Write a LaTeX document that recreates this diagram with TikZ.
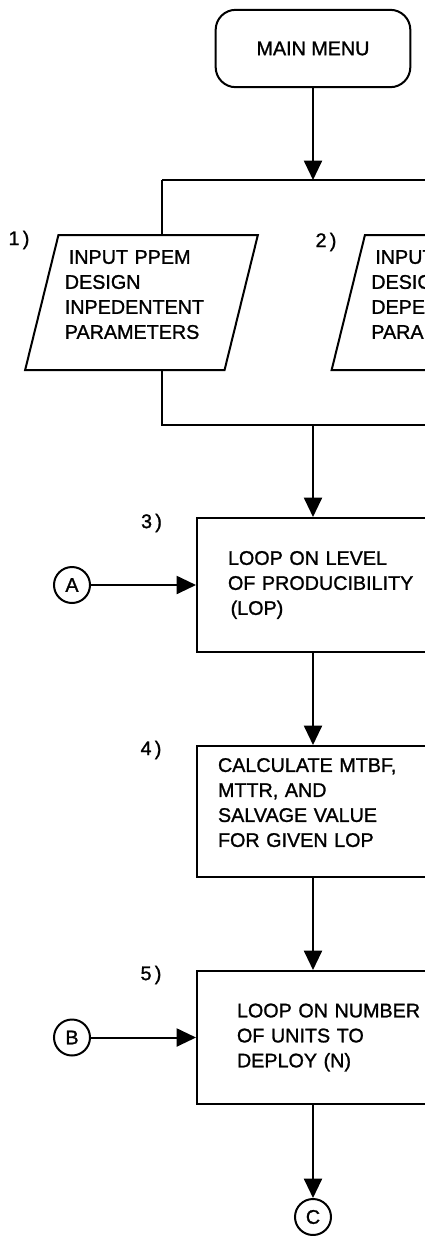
\documentclass[tikz,border=0pt]{standalone}
\usepackage{fontspec}
\setmainfont{Liberation Sans}[BoldFont=Liberation Sans,BoldFeatures={FakeBold=1.2}]
\usetikzlibrary{arrows.meta,shapes.geometric,calc}
\hyphenpenalty=10000
\exhyphenpenalty=10000

\begin{document}
\begin{tikzpicture}[x=0.75pt,y=-0.75pt,line width=1.5pt,
  >={Triangle[width=13.5pt,length=14.5pt]},
  every node/.style={font=\fontsize{14.8pt}{18.75pt}\selectfont\bfseries},
  menubox/.style={draw,rounded corners=15pt,minimum width=146pt,minimum height=58pt},
  procbox/.style={draw,rectangle,minimum width=174pt,align=left},
  inputbox/.style={draw,trapezium,trapezium left angle=74,trapezium right angle=106,
    trapezium stretches=true,minimum width=174.75pt,minimum height=101.25pt,
    text width=115pt,align=left},
  connector/.style={draw,circle,minimum size=27pt,inner sep=0pt},
  steplabel/.style={inner sep=0pt}]
\clip (0,0) rectangle (425,1236);
\node[menubox] (menu) at (313,48.5) {MAIN MENU};
\node[steplabel] (n1) at (19,240) {1\,)};
\node[steplabel] (n2) at (326,242) {2\,)};
\node[inputbox] (in1) at (141.5,302.5) {\hspace{3pt}INPUT~PPEM\\DESIGN\\INPEDENTENT\\PARAMETERS\rule[-12pt]{0pt}{12pt}};
\node[inputbox] (in2) at (448,302.5) {\hspace{3pt}INPUT~PPEM\\DESIGN\\DEPENDENT\\PARAMETERS\rule[-12pt]{0pt}{12pt}};
\node[steplabel] (n3) at (151.5,523) {3\,)};
\node[procbox,minimum height=100.5pt,text width=127.5pt] (lop) at (313,585) {LOOP~ON~LEVEL\\OF~PRODUCIBILITY\\\hspace{2pt}(LOP)};
\node[connector] (A) at (72,585) {A};
\node[steplabel] (n4) at (151,750) {4\,)};
\node[procbox,minimum height=98.25pt,text width=142.5pt] (calc) at (313,811.5) {CALCULATE~MTBF,\\MTTR, AND\\SALVAGE~VALUE\\FOR~GIVEN~LOP\rule[-13.5pt]{0pt}{13.5pt}};
\node[steplabel] (n5) at (151,975) {5\,)};
\node[procbox,minimum height=99.75pt,text width=114pt] (units) at (313,1037.5) {LOOP~ON~NUMBER\\OF~UNITS~TO\\DEPLOY~(N)};
\node[connector] (B) at (72,1037.5) {B};
\node[connector] (C) at (313,1217) {C};
\coordinate (splitL) at (162,180);
\coordinate (splitR) at (440,180);
\coordinate (joinL) at (162,425);
\coordinate (joinR) at (440,425);
\draw[->] (menu) -- (menu |- splitL);
\draw (splitL) -- (splitR);
\draw (splitL) -- (splitL |- in1.north);
\draw (splitL |- in1.south) -- (joinL) -- (joinR);
\draw[->] (menu |- joinL) -- (lop);
\draw[->] (A) -- (lop);
\draw[->] (lop) -- (calc);
\draw[->] (calc) -- (units);
\draw[->] (B) -- (units);
\draw[->] (units) -- (C);
\end{tikzpicture}
\end{document}
